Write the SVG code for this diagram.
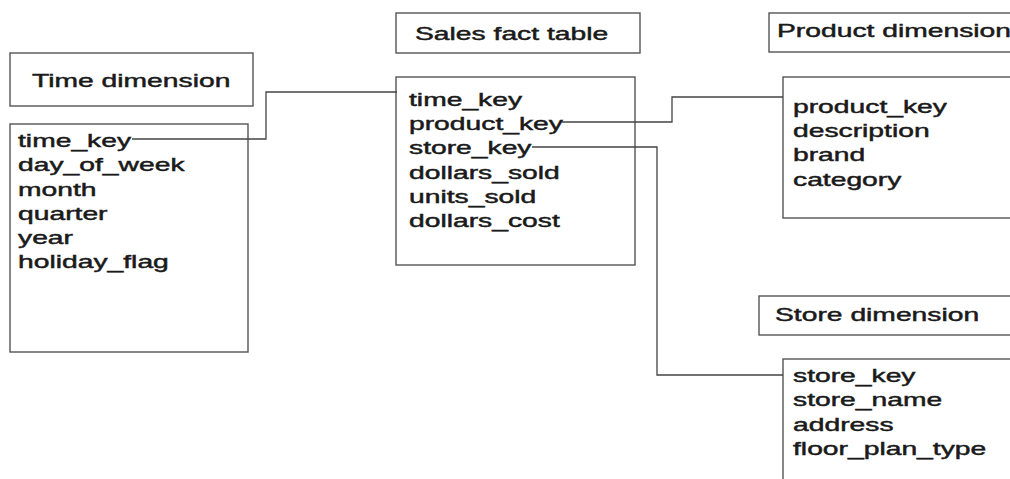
<svg xmlns="http://www.w3.org/2000/svg" width="1010" height="479" viewBox="0 0 1010 479">
<style>
.box{fill:#fff;stroke:#555;stroke-width:1.4}
.t{font-family:"Liberation Sans",Arial,sans-serif;font-size:18px;fill:#1a1a1a;stroke:#1a1a1a;stroke-width:0.45}
.conn{fill:none;stroke:#444;stroke-width:1.3}
</style>
<rect width="1010" height="479" fill="#fff"/>
<g id="time-title">
<rect class="box" x="10" y="53" width="243" height="53"/>
<text class="t" transform="translate(32,87) scale(1.57,1)">Time dimension</text>
</g>
<g id="time-dim">
<rect class="box" x="10" y="124" width="238" height="228"/>
<text class="t" transform="translate(18,147) scale(1.57,1)"><tspan x="0" y="0">time_key</tspan><tspan x="0" y="24.3">day_of_week</tspan><tspan x="0" y="48.6">month</tspan><tspan x="0" y="72.9">quarter</tspan><tspan x="0" y="97.2">year</tspan><tspan x="0" y="121.5">holiday_flag</tspan></text>
</g>
<g id="sales-title">
<rect class="box" x="396" y="13" width="244" height="40"/>
<text class="t" transform="translate(415,40) scale(1.57,1)">Sales fact table</text>
</g>
<g id="sales-fact">
<rect class="box" x="396" y="77" width="239" height="188"/>
<text class="t" transform="translate(409,106) scale(1.57,1)"><tspan x="0" y="0">time_key</tspan><tspan x="0" y="24.2">product_key</tspan><tspan x="0" y="48.4">store_key</tspan><tspan x="0" y="72.6">dollars_sold</tspan><tspan x="0" y="96.8">units_sold</tspan><tspan x="0" y="121">dollars_cost</tspan></text>
</g>
<g id="product-title">
<rect class="box" x="769" y="13" width="260" height="39"/>
<text class="t" transform="translate(777,37) scale(1.57,1)">Product dimension</text>
</g>
<g id="product-dim">
<rect class="box" x="783" y="77" width="250" height="141"/>
<text class="t" transform="translate(793,113) scale(1.57,1)"><tspan x="0" y="0">product_key</tspan><tspan x="0" y="24.2">description</tspan><tspan x="0" y="48.4">brand</tspan><tspan x="0" y="72.6">category</tspan></text>
</g>
<g id="store-title">
<rect class="box" x="759" y="296" width="270" height="39"/>
<text class="t" transform="translate(775,321) scale(1.57,1)">Store dimension</text>
</g>
<g id="store-dim">
<rect class="box" x="783" y="359" width="250" height="140"/>
<text class="t" transform="translate(793,382) scale(1.57,1)"><tspan x="0" y="0">store_key</tspan><tspan x="0" y="24.3">store_name</tspan><tspan x="0" y="48.6">address</tspan><tspan x="0" y="72.9">floor_plan_type</tspan></text>
</g>
<g id="connectors">
<polyline class="conn" points="132,139 266,139 266,92 397,92"/>
<polyline class="conn" points="562,122 672,122 672,97 783,97"/>
<polyline class="conn" points="532,147 657,147 657,375 783,375"/>
</g>
</svg>
